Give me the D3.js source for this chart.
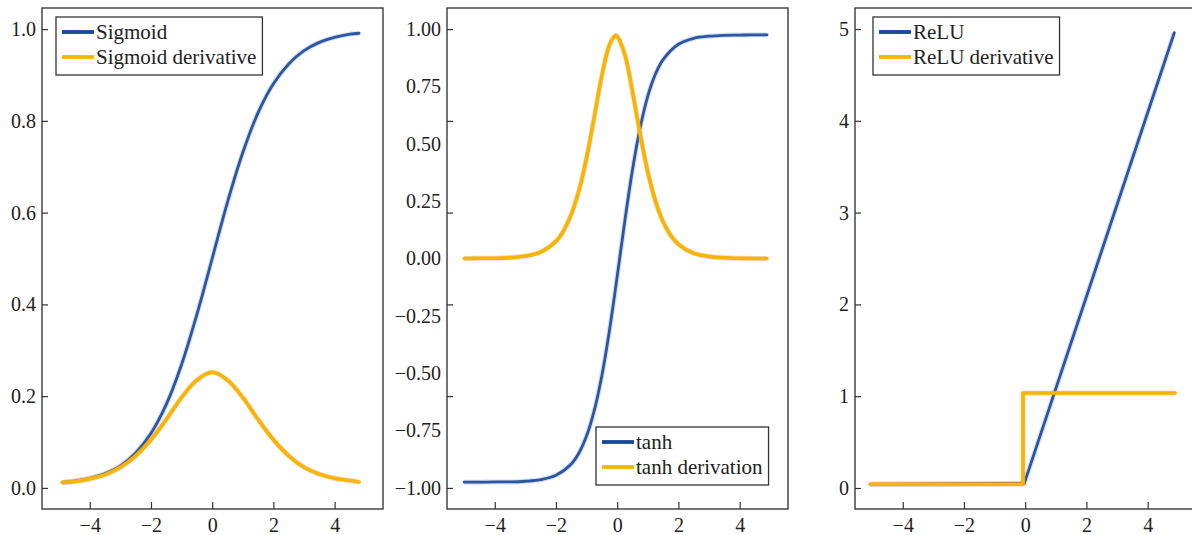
<!DOCTYPE html>
<html lang="en">
<head>
<meta charset="UTF-8" />
<title>Activation functions</title>
<script src="https://cdn.jsdelivr.net/npm/d3@7"></script>
<style>
  body { margin: 0; background: #fff; }
  svg { display: block; font-family: 'Liberation Serif', 'Times New Roman', serif; }
  .tick text { font-family: 'Liberation Serif', 'Times New Roman', serif; font-size: 20px; fill: #222; }
  .tick line { stroke: #333; stroke-width: 1.2; }
</style>
</head>
<body>
<svg id="chart" width="1192" height="535"></svg>
<script>
// ---- data ----
const xTicks = [-4, -2, 0, 2, 4];

const sigX = [-4.9, -4.5, -4, -3.5, -3, -2.5, -2, -1.5, -1, -0.5, 0, 0.5, 1, 1.5, 2, 2.5, 3, 3.5, 4, 4.5, 4.8];
const sigY = [0.012, 0.015, 0.021, 0.031, 0.048, 0.076, 0.119, 0.182, 0.269, 0.378, 0.5, 0.623, 0.731, 0.818, 0.881, 0.924, 0.953, 0.971, 0.982, 0.989, 0.991];
const sigD = [0.012, 0.014, 0.02, 0.029, 0.045, 0.07, 0.105, 0.149, 0.197, 0.235, 0.252, 0.235, 0.197, 0.149, 0.105, 0.07, 0.045, 0.03, 0.021, 0.016, 0.013];
const sigTicks = [0, 0.2, 0.4, 0.6, 0.8, 1.0];

const tanhX = [-5, -4.5, -4, -3.5, -3, -2.5, -2, -1.5, -1.25, -1, -0.75, -0.5, -0.25, 0, 0.25, 0.5, 0.75, 1, 1.25, 1.5, 2, 2.5, 3, 3.5, 4, 4.5, 4.9];
const tanhY = [-0.975, -0.975, -0.974, -0.974, -0.971, -0.964, -0.945, -0.896, -0.848, -0.773, -0.663, -0.51, -0.311, -0.078, 0.164, 0.387, 0.57, 0.708, 0.804, 0.867, 0.934, 0.96, 0.969, 0.973, 0.974, 0.975, 0.975];
const tanhDX = [-5, -4.5, -4, -3.5, -3, -2.5, -2, -1.75, -1.5, -1.25, -1, -0.75, -0.5, -0.25, -0.05, 0, 0.25, 0.5, 0.75, 1, 1.25, 1.5, 1.75, 2, 2.5, 3, 3.5, 4, 4.5, 4.9];
const tanhD = [0, 0.001, 0.001, 0.004, 0.011, 0.028, 0.075, 0.121, 0.192, 0.296, 0.439, 0.616, 0.797, 0.932, 0.972, 0.968, 0.888, 0.727, 0.542, 0.377, 0.25, 0.16, 0.1, 0.062, 0.023, 0.009, 0.003, 0.001, 0, 0];
const tanhLabels = [-1, -0.75, -0.5, -0.25, 0, 0.25, 0.5, 0.75, 1];
const tanhMarks = [-1, -0.6, -0.2, 0.2, 0.6, 1];

const reluX = [-5.07, -0.03, 4.87];
const reluY = [0.04, 0.05, 4.96];
const reluDX = [-5.07, -0.07, -0.07, 4.9];
const reluDY = [0.04, 0.04, 1.035, 1.035];
const reluTicks = [0, 1, 2, 3, 4, 5];

// ---- layout ----
const BLUE = '#2a56a3', YELLOW = '#f7b500';
const plotTop = 8, plotBottom = 509, panelW = 341;
const xDomain = [-5.56, 5.58];
const svg = d3.select('#chart');

const zip = (a, b) => a.map((v, i) => [v, b[i]]);

const panels = [
  {
    left: 42, yDomain: [-0.046, 1.046], labels: sigTicks, marks: sigTicks, fmt: '.1f',
    curve: d3.curveCatmullRom,
    blue: zip(sigX, sigY), yellow: zip(sigX, sigD),
    legend: { x: 56, y: 17, names: ['Sigmoid', 'Sigmoid derivative'] }
  },
  {
    left: 447, yDomain: [-1.092, 1.092], labels: tanhLabels, marks: tanhMarks, fmt: '.2f',
    curve: d3.curveCatmullRom,
    blue: zip(tanhX, tanhY), yellow: zip(tanhDX, tanhD),
    legend: { x: 596, y: 427, names: ['tanh', 'tanh derivation'] }
  },
  {
    left: 855, yDomain: [-0.229, 5.229], labels: reluTicks, marks: reluTicks, fmt: 'd',
    curve: d3.curveLinear,
    blue: zip(reluX, reluY), yellow: zip(reluDX, reluDY),
    legend: { x: 873, y: 17, names: ['ReLU', 'ReLU derivative'] }
  }
];

panels.forEach((p, idx) => {
  const x = d3.scaleLinear().domain(xDomain).range([p.left, p.left + panelW]);
  const y = d3.scaleLinear().domain(p.yDomain).range([plotBottom, plotTop]);

  svg.append('clipPath').attr('id', 'clip' + idx)
    .append('rect').attr('x', p.left).attr('y', plotTop).attr('width', panelW).attr('height', plotBottom - plotTop);

  // x axis, ticks pointing inward
  svg.append('g')
    .attr('transform', `translate(0,${plotBottom})`)
    .call(d3.axisBottom(x).tickValues(xTicks).tickSize(-7).tickPadding(9))
    .call(g => g.attr('font-family', null).select('.domain').remove());

  // y labels
  svg.append('g')
    .attr('transform', `translate(${p.left},0)`)
    .call(d3.axisLeft(y).tickValues(p.labels).tickFormat(d3.format(p.fmt)).tickSize(0).tickPadding(6))
    .call(g => g.attr('font-family', null).select('.domain').remove());

  // y tick marks
  svg.append('g')
    .attr('transform', `translate(${p.left},0)`)
    .call(d3.axisLeft(y).tickValues(p.marks).tickFormat('').tickSize(-6))
    .call(g => g.select('.domain').remove());

  const line = d3.line().x(d => x(d[0])).y(d => y(d[1])).curve(p.curve);
  const plot = svg.append('g').attr('clip-path', `url(#clip${idx})`);

  plot.append('path').attr('d', line(p.blue))
    .attr('fill', 'none').attr('stroke', '#a9bde0').attr('stroke-width', 5).attr('opacity', 0.5);
  plot.append('path').attr('d', line(p.blue))
    .attr('fill', 'none').attr('stroke', BLUE).attr('stroke-width', 2.8)
    .attr('stroke-linejoin', 'round').attr('stroke-linecap', 'round');
  plot.append('path').attr('d', line(p.yellow))
    .attr('fill', 'none').attr('stroke', '#ec8a4a').attr('stroke-width', 5).attr('opacity', 0.35)
    .attr('stroke-linejoin', 'round');
  plot.append('path').attr('d', line(p.yellow))
    .attr('fill', 'none').attr('stroke', YELLOW).attr('stroke-width', 3.6)
    .attr('stroke-linejoin', 'round').attr('stroke-linecap', 'round');

  // frame
  svg.append('rect')
    .attr('x', p.left).attr('y', plotTop).attr('width', panelW).attr('height', plotBottom - plotTop)
    .attr('fill', 'none').attr('stroke', '#3a3a3a').attr('stroke-width', 1.4);

  // legend
  const lg = svg.append('g').attr('transform', `translate(${p.legend.x},${p.legend.y})`);
  const box = lg.append('rect').attr('fill', '#fff').attr('stroke', '#333').attr('stroke-width', 1.3);
  let maxLen = 0;
  p.legend.names.forEach((name, i) => {
    const ly = 15 + i * 25;
    lg.append('line').attr('x1', 6).attr('x2', 38).attr('y1', ly).attr('y2', ly)
      .attr('stroke', i === 0 ? '#17479b' : YELLOW).attr('stroke-width', 3.8);
    const t = lg.append('text').attr('x', 40).attr('y', ly).attr('dy', '0.33em')
      .attr('font-size', 21).attr('fill', '#222').text(name);
    maxLen = Math.max(maxLen, t.node().getComputedTextLength());
  });
  box.attr('x', 0).attr('y', 0).attr('width', 40 + maxLen + 6).attr('height', 58);
});
</script>
</body>
</html>
